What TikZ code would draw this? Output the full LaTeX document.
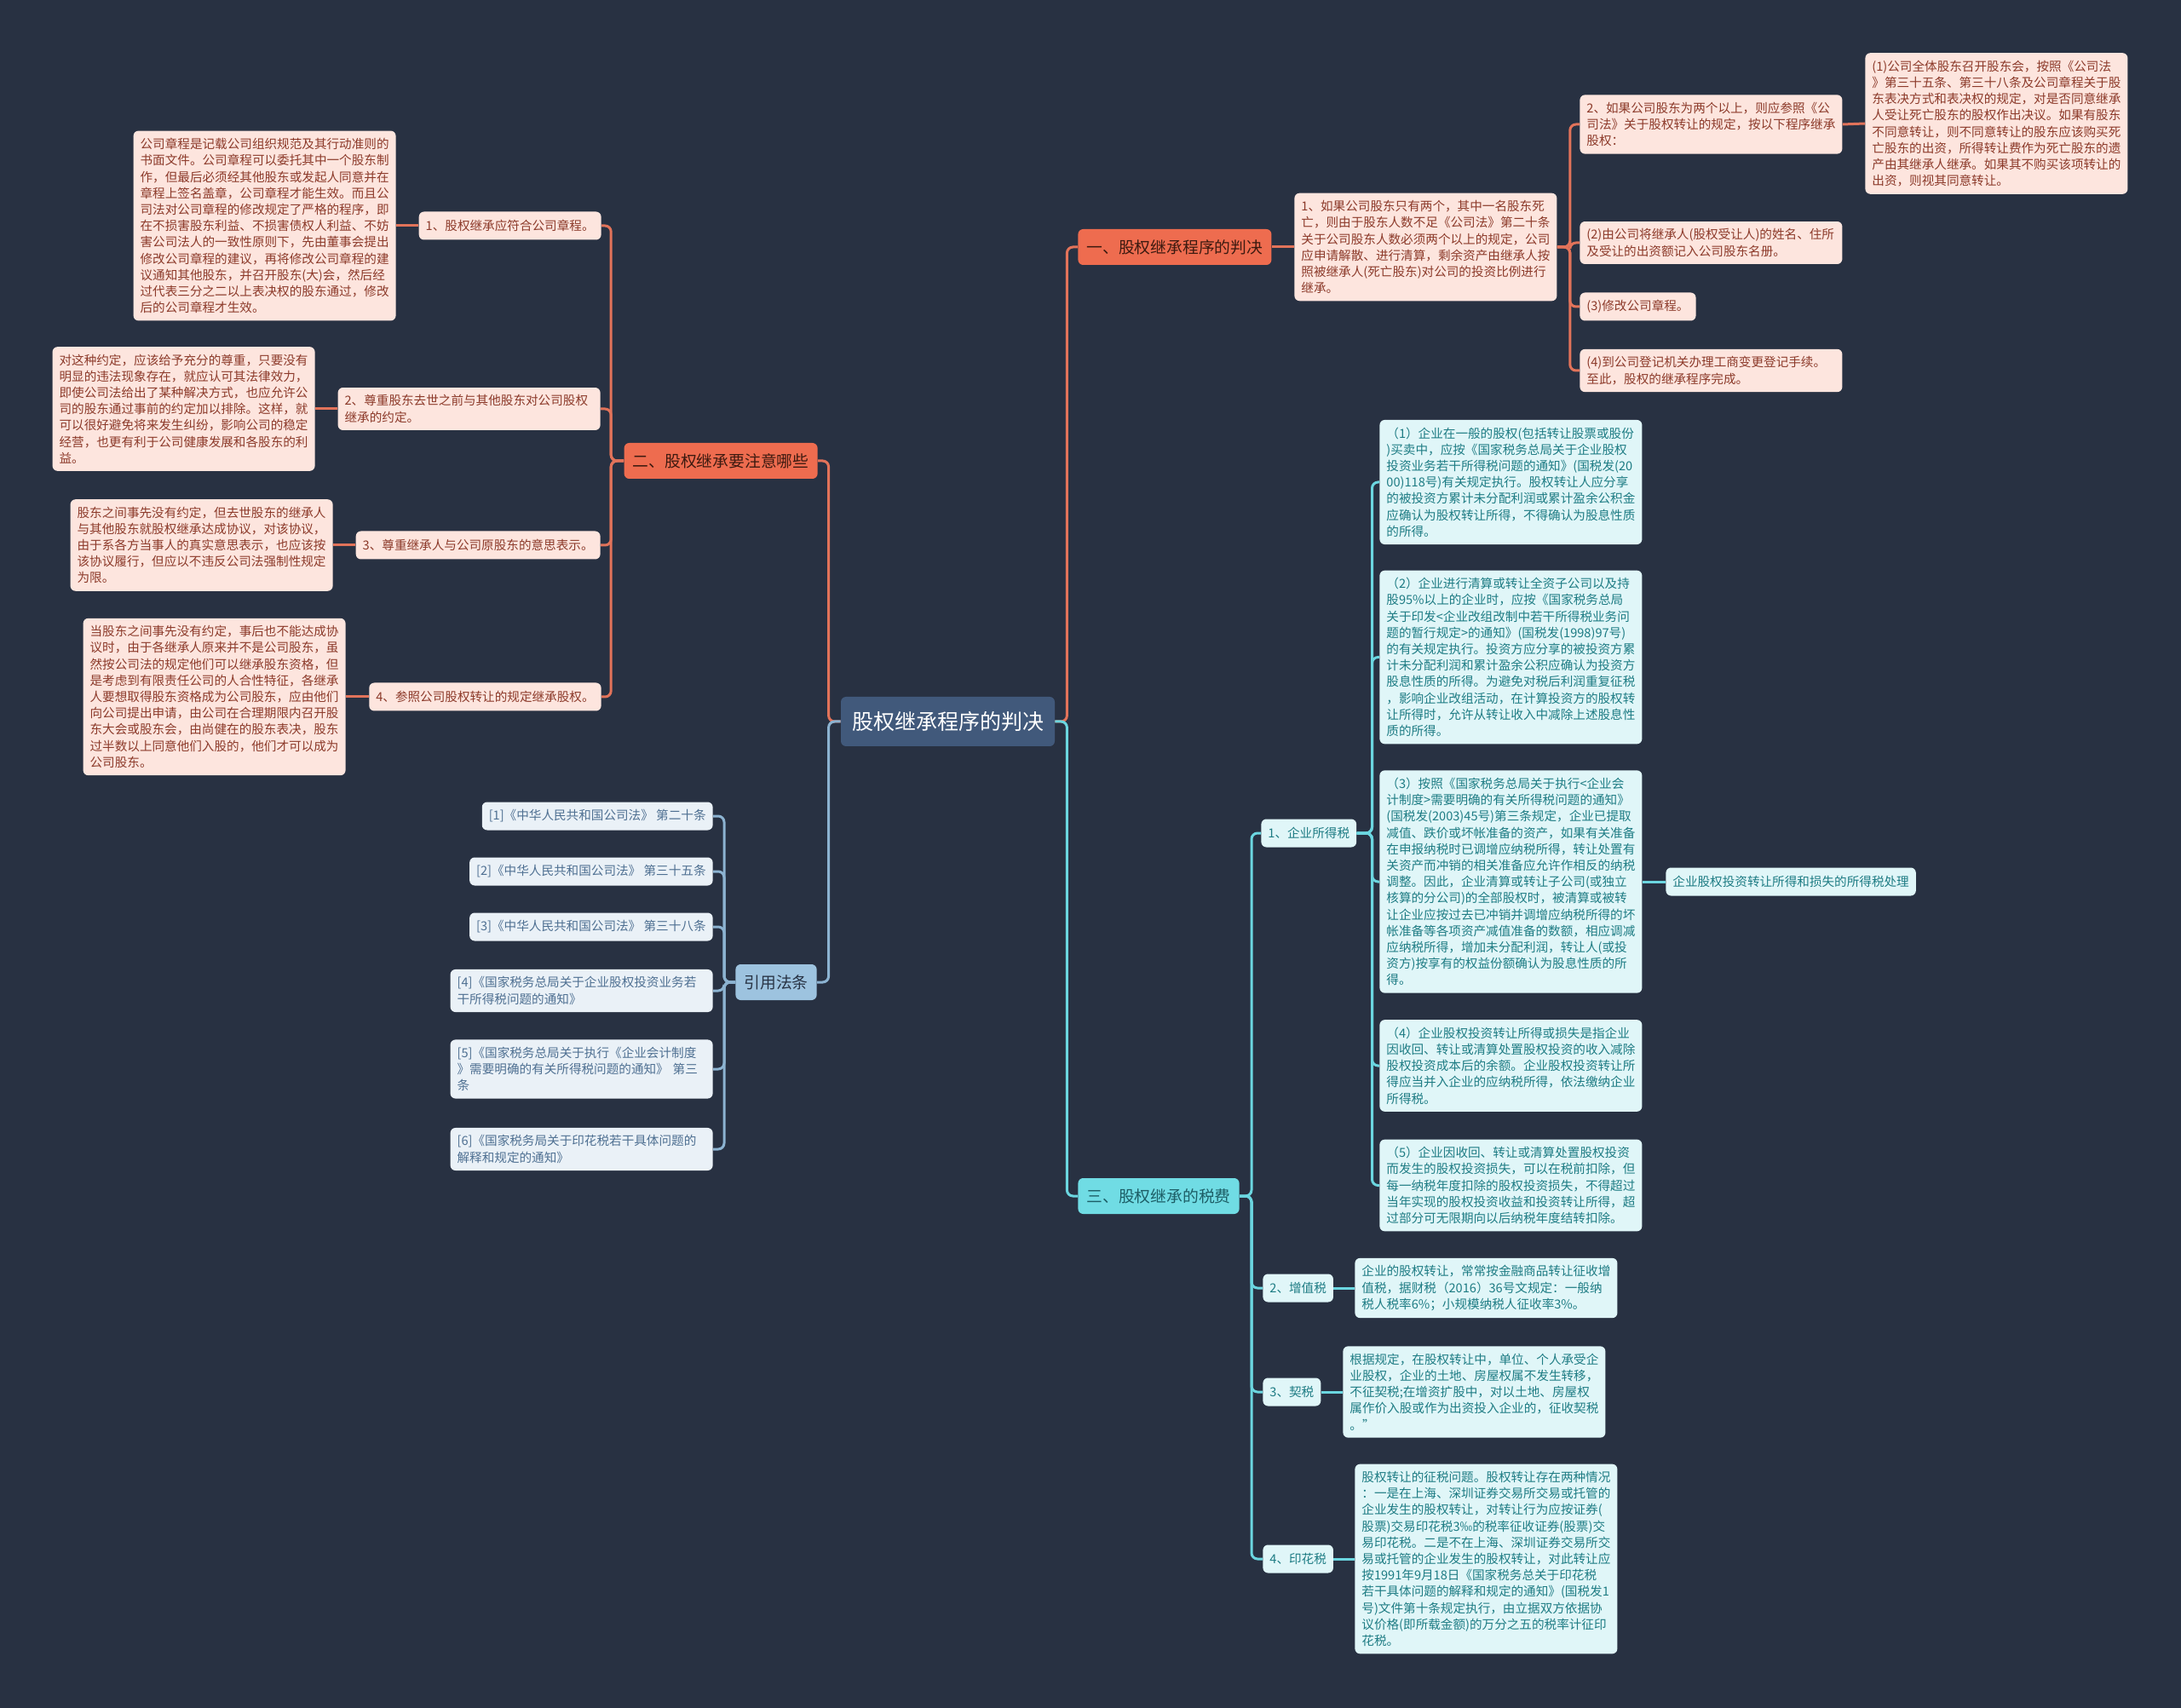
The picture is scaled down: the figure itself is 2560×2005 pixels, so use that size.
\documentclass[tikz,border=0pt]{standalone}
\usepackage{fontspec}
\setmainfont{Noto Sans CJK SC}
\usepackage{xcolor}
\usepackage{tikz}
\usetikzlibrary{positioning}

\definecolor{bgc}{HTML}{283142}
\definecolor{rootf}{HTML}{41597B}
\definecolor{orangef}{HTML}{EE6C4F}
\definecolor{orangetxt}{HTML}{3D1A10}
\definecolor{pinkf}{HTML}{FDE5DE}
\definecolor{pinkt}{HTML}{8C3A2A}
\definecolor{pinkl}{HTML}{E2735A}
\definecolor{cyanf}{HTML}{70DCE4}
\definecolor{cyant}{HTML}{1D5E66}
\definecolor{cyanl}{HTML}{6BD6E0}
\definecolor{cyanlf}{HTML}{E0F6F8}
\definecolor{cyanlt}{HTML}{1E7C84}
\definecolor{reff}{HTML}{9DC3DF}
\definecolor{reft}{HTML}{283344}
\definecolor{refl}{HTML}{8CB3D1}
\definecolor{reflf}{HTML}{EAF1F7}
\definecolor{reflt}{HTML}{4F7092}

\tikzset{
  mmbox/.style={rounded corners=3pt, inner xsep=4pt, inner ysep=4.3pt, align=left},
  small/.style={font=\fontsize{7.3}{9.6}\selectfont},
  leafwide/.style={mmbox, small, text width=146pt},
  leaftag/.style={mmbox, small, minimum height=16.5pt},
  pinkleaf/.style={leafwide, fill=pinkf, text=pinkt},
  pinktag/.style={leaftag, fill=pinkf, text=pinkt},
  cyanleaf/.style={leafwide, fill=cyanlf, text=cyanlt},
  cyantag/.style={leaftag, fill=cyanlf, text=cyanlt},
  refleaf/.style={leafwide, fill=reflf, text=reflt},
  reftag/.style={leaftag, fill=reflf, text=reflt},
  topicbox/.style={rounded corners=3pt, inner xsep=5pt, minimum height=21pt, font=\fontsize{9.4}{11}\selectfont},
  rootbox/.style={rounded corners=3pt, fill=rootf, text=white, minimum height=29pt, minimum width=125.5pt, font=\fontsize{12.5}{14}\selectfont},
  link/.style={line width=1.5pt, rounded corners=3.5pt},
  pinkline/.style={link, draw=pinkl},
  cyanline/.style={link, draw=cyanl},
  refline/.style={link, draw=refl}
}

\begin{document}
\begin{tikzpicture}[x=0.5pt,y=-0.5pt]
\fill[bgc] (0,0) rectangle (2560,2005);
\useasboundingbox (0,0) rectangle (2560,2005);

% 根节点与一级分支
\node[rootbox] (root) at (1112.5,847) {股权继承程序的判决};
\node[topicbox, fill=orangef, text=orangetxt, minimum width=113.5pt, anchor=west] (procedure) at (1265,290) {一、股权继承程序的判决};
\node[topicbox, fill=orangef, text=orangetxt, minimum width=113.5pt, anchor=east] (notice) at (960,541) {二、股权继承要注意哪些};
\node[topicbox, fill=cyanf, text=cyant, minimum width=94pt, anchor=west] (taxes) at (1265,1404) {三、股权继承的税费};
\node[topicbox, fill=reff, text=reft, minimum width=47pt, anchor=east] (laws) at (959,1153) {引用法条};

% 一、股权继承程序的判决
\node[pinkleaf, anchor=west] (twoholders) at (1519,290) {1、如果公司股东只有两个，其中一名股东死\\亡，则由于股东人数不足《公司法》第二十条\\关于公司股东人数必须两个以上的规定，公司\\应申请解散、进行清算，剩余资产由继承人按\\照被继承人(死亡股东)对公司的投资比例进行\\继承。};
\node[pinkleaf, anchor=west] (manyholders) at (1854,146) {2、如果公司股东为两个以上，则应参照《公\\司法》关于股权转让的规定，按以下程序继承\\股权：};
\node[pinkleaf, anchor=west] (meeting) at (2189,145) {(1)公司全体股东召开股东会，按照《公司法\\》第三十五条、第三十八条及公司章程关于股\\东表决方式和表决权的规定，对是否同意继承\\人受让死亡股东的股权作出决议。如果有股东\\不同意转让，则不同意转让的股东应该购买死\\亡股东的出资，所得转让费作为死亡股东的遗\\产由其继承人继承。如果其不购买该项转让的\\出资，则视其同意转让。};
\node[pinkleaf, anchor=west] (register) at (1854,285) {(2)由公司将继承人(股权受让人)的姓名、住所\\及受让的出资额记入公司股东名册。};
\node[pinktag, anchor=west] (charter) at (1854,360) {(3)修改公司章程。};
\node[pinkleaf, anchor=west] (change) at (1854,435) {(4)到公司登记机关办理工商变更登记手续。\\至此，股权的继承程序完成。};

% 二、股权继承要注意哪些
\node[pinktag, anchor=east] (attA) at (706,265) {1、股权继承应符合公司章程。};
\node[pinkleaf, anchor=east] (attAd) at (465,265) {公司章程是记载公司组织规范及其行动准则的\\书面文件。公司章程可以委托其中一个股东制\\作，但最后必须经其他股东或发起人同意并在\\章程上签名盖章，公司章程才能生效。而且公\\司法对公司章程的修改规定了严格的程序，即\\在不损害股东利益、不损害债权人利益、不妨\\害公司法人的一致性原则下，先由董事会提出\\修改公司章程的建议，再将修改公司章程的建\\议通知其他股东，并召开股东(大)会，然后经\\过代表三分之二以上表决权的股东通过，修改\\后的公司章程才生效。};
\node[pinkleaf, anchor=east] (attB) at (705,480) {2、尊重股东去世之前与其他股东对公司股权\\继承的约定。};
\node[pinkleaf, anchor=east] (attBd) at (370,480) {对这种约定，应该给予充分的尊重，只要没有\\明显的违法现象存在，就应认可其法律效力，\\即使公司法给出了某种解决方式，也应允许公\\司的股东通过事前的约定加以排除。这样，就\\可以很好避免将来发生纠纷，影响公司的稳定\\经营，也更有利于公司健康发展和各股东的利\\益。};
\node[pinktag, anchor=east] (attC) at (705,640) {3、尊重继承人与公司原股东的意思表示。};
\node[pinkleaf, anchor=east] (attCd) at (391,640) {股东之间事先没有约定，但去世股东的继承人\\与其他股东就股权继承达成协议，对该协议，\\由于系各方当事人的真实意思表示，也应该按\\该协议履行，但应以不违反公司法强制性规定\\为限。};
\node[pinktag, anchor=east] (attD) at (706,818) {4、参照公司股权转让的规定继承股权。};
\node[pinkleaf, anchor=east] (attDd) at (406,818) {当股东之间事先没有约定，事后也不能达成协\\议时，由于各继承人原来并不是公司股东，虽\\然按公司法的规定他们可以继承股东资格，但\\是考虑到有限责任公司的人合性特征，各继承\\人要想取得股东资格成为公司股东，应由他们\\向公司提出申请，由公司在合理期限内召开股\\东大会或股东会，由尚健在的股东表决，股东\\过半数以上同意他们入股的，他们才可以成为\\公司股东。};

% 三、股权继承的税费
\node[cyantag, anchor=west] (income) at (1480,978) {1、企业所得税};
\node[cyantag, anchor=west] (vat) at (1482,1512) {2、增值税};
\node[cyantag, anchor=west] (deed) at (1482,1634) {3、契税};
\node[cyantag, anchor=west] (stamp) at (1482,1830) {4、印花税};
\node[cyanleaf, anchor=west] (incA) at (1619,566) {（1）企业在一般的股权(包括转让股票或股份\\)买卖中，应按《国家税务总局关于企业股权\\投资业务若干所得税问题的通知》(国税发(20\\00)118号)有关规定执行。股权转让人应分享\\的被投资方累计未分配利润或累计盈余公积金\\应确认为股权转让所得，不得确认为股息性质\\的所得。};
\node[cyanleaf, anchor=west] (incB) at (1619,771.5) {（2）企业进行清算或转让全资子公司以及持\\股95\%以上的企业时，应按《国家税务总局\\关于印发<企业改组改制中若干所得税业务问\\题的暂行规定>的通知》(国税发(1998)97号)\\的有关规定执行。投资方应分享的被投资方累\\计未分配利润和累计盈余公积应确认为投资方\\股息性质的所得。为避免对税后利润重复征税\\，影响企业改组活动，在计算投资方的股权转\\让所得时，允许从转让收入中减除上述股息性\\质的所得。};
\node[cyanleaf, anchor=west] (incC) at (1619,1035) {（3）按照《国家税务总局关于执行<企业会\\计制度>需要明确的有关所得税问题的通知》\\(国税发(2003)45号)第三条规定，企业已提取\\减值、跌价或坏帐准备的资产，如果有关准备\\在申报纳税时已调增应纳税所得，转让处置有\\关资产而冲销的相关准备应允许作相反的纳税\\调整。因此，企业清算或转让子公司(或独立\\核算的分公司)的全部股权时，被清算或被转\\让企业应按过去已冲销并调增应纳税所得的坏\\帐准备等各项资产减值准备的数额，相应调减\\应纳税所得，增加未分配利润，转让人(或投\\资方)按享有的权益份额确认为股息性质的所\\得。};
\node[cyantag, anchor=west] (incCx) at (1955,1035) {企业股权投资转让所得和损失的所得税处理};
\node[cyanleaf, anchor=west] (incD) at (1619,1251) {（4）企业股权投资转让所得或损失是指企业\\因收回、转让或清算处置股权投资的收入减除\\股权投资成本后的余额。企业股权投资转让所\\得应当并入企业的应纳税所得，依法缴纳企业\\所得税。};
\node[cyanleaf, anchor=west] (incE) at (1619,1391.5) {（5）企业因收回、转让或清算处置股权投资\\而发生的股权投资损失，可以在税前扣除，但\\每一纳税年度扣除的股权投资损失，不得超过\\当年实现的股权投资收益和投资转让所得，超\\过部分可无限期向以后纳税年度结转扣除。};
\node[cyanleaf, anchor=west] (vatd) at (1590,1512) {企业的股权转让，常常按金融商品转让征收增\\值税，据财税（2016）36号文规定：一般纳\\税人税率6\%；小规模纳税人征收率3\%。};
\node[cyanleaf, anchor=west] (deedd) at (1576,1634) {根据规定，在股权转让中，单位、个人承受企\\业股权，企业的土地、房屋权属不发生转移，\\不征契税;在增资扩股中，对以土地、房屋权\\属作价入股或作为出资投入企业的，征收契税\\。”};
\node[cyanleaf, anchor=west] (stampd) at (1590,1830) {股权转让的征税问题。股权转让存在两种情况\\：一是在上海、深圳证券交易所交易或托管的\\企业发生的股权转让，对转让行为应按证券(\\股票)交易印花税3‰的税率征收证券(股票)交\\易印花税。二是不在上海、深圳证券交易所交\\易或托管的企业发生的股权转让，对此转让应\\按1991年9月18日《国家税务总关于印花税\\若干具体问题的解释和规定的通知》(国税发1\\号)文件第十条规定执行，由立据双方依据协\\议价格(即所载金额)的万分之五的税率计征印\\花税。};

% 引用法条
\node[reftag, anchor=east] (lawA) at (837,958) {[1]《中华人民共和国公司法》 第二十条};
\node[reftag, anchor=east] (lawB) at (837,1023) {[2]《中华人民共和国公司法》 第三十五条};
\node[reftag, anchor=east] (lawC) at (837,1088) {[3]《中华人民共和国公司法》 第三十八条};
\node[refleaf, anchor=east] (lawD) at (837,1163) {[4]《国家税务总局关于企业股权投资业务若\\干所得税问题的通知》};
\node[refleaf, anchor=east] (lawE) at (837,1255) {[5]《国家税务总局关于执行《企业会计制度\\》需要明确的有关所得税问题的通知》 第三\\条};
\node[refleaf, anchor=east] (lawF) at (837,1349) {[6]《国家税务局关于印花税若干具体问题的\\解释和规定的通知》};

% 连线
\draw[pinkline] (root.east) -- ++(14,0) |- (procedure.west);
\draw[cyanline] (root.east) -- ++(14,0) |- (taxes.west);
\draw[pinkline] (root.west) -- ++(-14,0) |- (notice.east);
\draw[refline] (root.west) -- ++(-14,0) |- (laws.east);

\draw[pinkline] (procedure.east) -- (twoholders.west);
\foreach \n in {manyholders, register, charter, change}
  \draw[pinkline] (twoholders.east) -- ++(15,0) |- (\n.west);
\draw[pinkline] (manyholders.east) -- (meeting.west);

\foreach \n in {attA, attB, attC, attD}
  \draw[pinkline] (notice.west) -- ++(-15,0) |- (\n.east);
\draw[pinkline] (attA.west) -- (attAd.east);
\draw[pinkline] (attB.west) -- (attBd.east);
\draw[pinkline] (attC.west) -- (attCd.east);
\draw[pinkline] (attD.west) -- (attDd.east);

\foreach \n in {income, vat, deed, stamp}
  \draw[cyanline] (taxes.east) -- ++(14,0) |- (\n.west);
\foreach \n in {incA, incB, incC, incD, incE}
  \draw[cyanline] (income.east) -- ++(18,0) |- (\n.west);
\draw[cyanline] (incC.east) -- (incCx.west);
\draw[cyanline] (vat.east) -- (vatd.west);
\draw[cyanline] (deed.east) -- (deedd.west);
\draw[cyanline] (stamp.east) -- (stampd.west);

\foreach \n in {lawA, lawB, lawC, lawD, lawE, lawF}
  \draw[refline] (laws.west) -- ++(-13,0) |- (\n.east);
\end{tikzpicture}
\end{document}
